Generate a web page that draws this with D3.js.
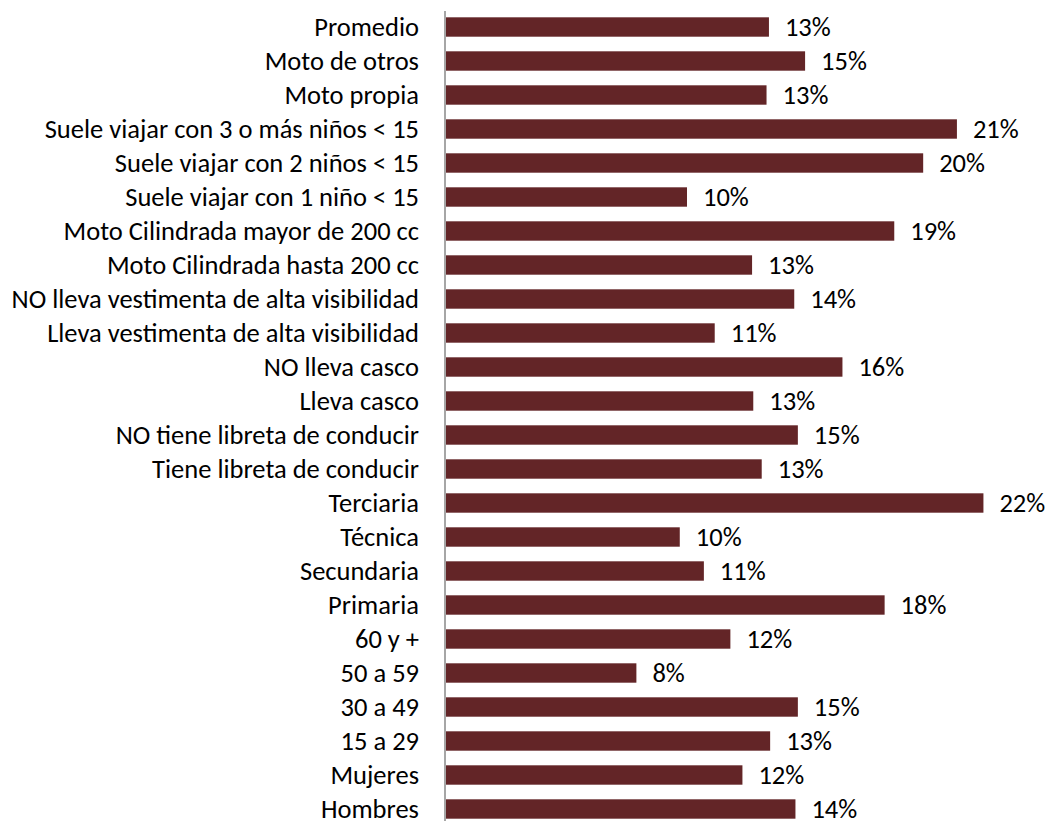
<!DOCTYPE html>
<html>
<head>
<meta charset="utf-8">
<script src="https://cdn.jsdelivr.net/npm/d3@7"></script>
<style>
  html, body { margin: 0; padding: 0; background: #fff; }
  svg { display: block; }
  text { font-family: Carlito, Lato, "Open Sans", sans-serif; fill: #000; }
</style>
</head>
<body>
<svg id="chart" width="1046" height="821"></svg>
<script>
const categories = [
  "Promedio",
  "Moto de otros",
  "Moto propia",
  "Suele viajar con 3 o más niños < 15",
  "Suele viajar con 2 niños < 15",
  "Suele viajar con 1 niño < 15",
  "Moto Cilindrada mayor de 200 cc",
  "Moto Cilindrada hasta 200 cc",
  "NO lleva vestimenta de alta visibilidad",
  "Lleva vestimenta de alta visibilidad",
  "NO lleva casco",
  "Lleva casco",
  "NO tiene libreta de conducir",
  "Tiene libreta de conducir",
  "Terciaria",
  "Técnica",
  "Secundaria",
  "Primaria",
  "60 y +",
  "50 a 59",
  "30 a 49",
  "15 a 29",
  "Mujeres",
  "Hombres"
];
const values = [
  0.134, 0.149, 0.133, 0.212, 0.198, 0.100, 0.186, 0.127,
  0.1445, 0.1115, 0.1645, 0.1275, 0.146, 0.131, 0.223, 0.097,
  0.107, 0.182, 0.118, 0.079, 0.146, 0.1345, 0.123, 0.145
];

const svg = d3.select("#chart");
const axisX = 445;
const x = d3.scaleLinear().domain([0, 0.01]).range([axisX + 1, axisX + 1 + 24.1]);
const y = d3.scaleBand().domain(categories).range([10, 826]).paddingInner(0.43).paddingOuter(0.215);

const fmt = d3.format(".0%");
const FS = 26.5;

svg.append("g").selectAll("rect")
  .data(categories)
  .join("rect")
  .attr("x", x(0))
  .attr("y", d => y(d))
  .attr("width", (d, i) => x(values[i]) - x(0))
  .attr("height", y.bandwidth())
  .attr("fill", "#632527");

// category axis
const yAxis = d3.axisLeft(y).tickSize(0).tickPadding(26);
const gy = svg.append("g").attr("transform", `translate(${axisX},0)`).call(yAxis);
gy.select(".domain").attr("stroke", "#a6a6a6").attr("stroke-width", 2)
  .attr("d", "M0,11V821");
gy.selectAll(".tick text")
  .attr("font-size", FS)
  .attr("font-weight", 300)
  .attr("dy", "0.33em")
  .attr("font-family", "Carlito, Lato, 'Open Sans', sans-serif")
  .attr("fill", "#000");

// value labels
svg.append("g").selectAll("text")
  .data(categories)
  .join("text")
  .attr("x", (d, i) => x(values[i]) + 16)
  .attr("y", d => y(d) + y.bandwidth() / 2)
  .attr("dy", "0.33em")
  .attr("font-size", FS)
  .attr("font-weight", 300)
  .text((d, i) => fmt(values[i]));
</script>
</body>
</html>
